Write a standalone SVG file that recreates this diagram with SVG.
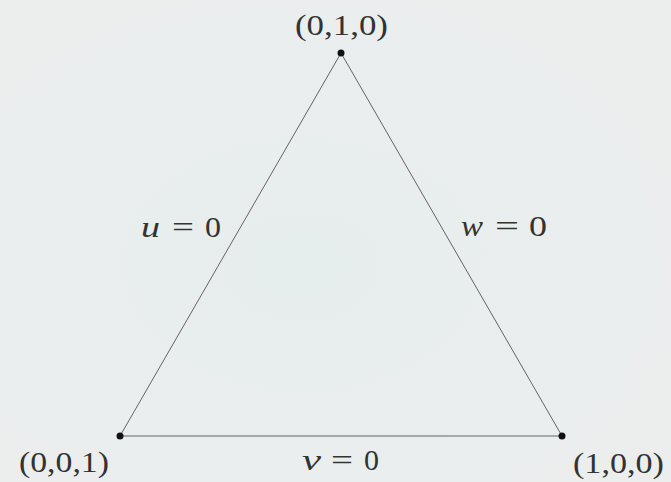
<svg xmlns="http://www.w3.org/2000/svg" width="671" height="482" viewBox="0 0 671 482">
<defs>
<radialGradient id="g1" cx="0.45" cy="0.55" r="0.6">
<stop offset="0" stop-color="#e6eded"/>
<stop offset="1" stop-color="#eceeee"/>
</radialGradient>
<style>
.t{font-family:"Liberation Serif",serif;font-size:29px;font-weight:normal;fill:#333}
.m{font-style:italic}
.e{fill:none;stroke:#555;stroke-width:0.9}
.d{fill:#111}
</style>
</defs>
<rect width="671" height="482" fill="url(#g1)"/>
<g id="edges">
<line class="e" x1="341" y1="53" x2="120" y2="436"/>
<line class="e" x1="341" y1="53" x2="562" y2="436"/>
<line class="e" x1="120" y1="436" x2="562" y2="436" stroke="#777"/>
</g>
<g id="v010"><circle class="d" cx="341" cy="53" r="3.5"/><text class="t" x="295" y="35" textLength="93" lengthAdjust="spacingAndGlyphs">(0,1,0)</text></g>
<g id="v001"><circle class="d" cx="120" cy="436" r="3.5"/><text class="t" x="19" y="472" textLength="90" lengthAdjust="spacingAndGlyphs">(0,0,1)</text></g>
<g id="v100"><circle class="d" cx="562" cy="436" r="3.5"/><text class="t" x="573" y="473" textLength="91" lengthAdjust="spacingAndGlyphs">(1,0,0)</text></g>
<g id="lu"><text class="t m" x="141" y="237" textLength="19" lengthAdjust="spacingAndGlyphs">u</text><text class="t" x="172" y="237" textLength="22" lengthAdjust="spacingAndGlyphs">=</text><text class="t" x="205" y="237" textLength="16" lengthAdjust="spacingAndGlyphs">0</text></g>
<g id="lw"><text class="t m" x="461" y="236" textLength="22" lengthAdjust="spacingAndGlyphs">w</text><text class="t" x="495" y="236" textLength="24" lengthAdjust="spacingAndGlyphs">=</text><text class="t" x="529" y="236" textLength="18" lengthAdjust="spacingAndGlyphs">0</text></g>
<g id="lv"><text class="t m" x="302" y="470" textLength="19" lengthAdjust="spacingAndGlyphs">v</text><text class="t" x="331" y="470" textLength="22" lengthAdjust="spacingAndGlyphs">=</text><text class="t" x="364" y="470" textLength="15" lengthAdjust="spacingAndGlyphs">0</text></g>
</svg>
